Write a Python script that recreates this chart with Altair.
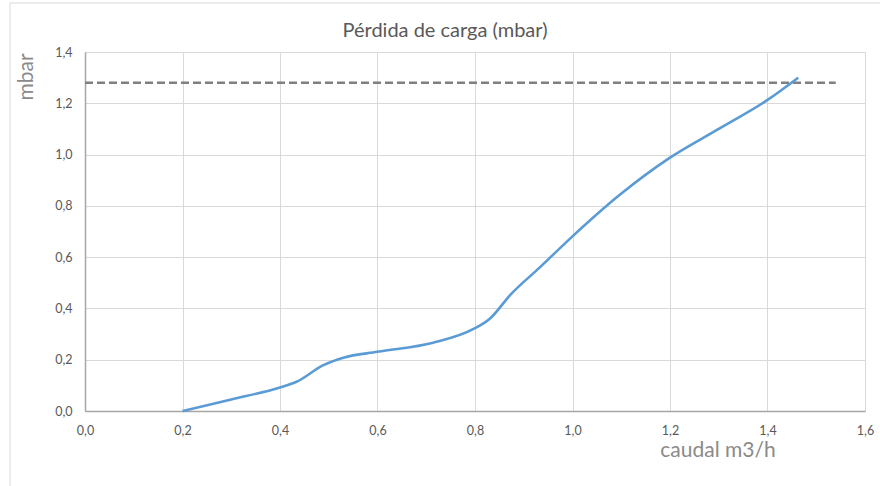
import altair as alt
import pandas as pd

# Curve
caudal = [0.2, 0.3, 0.4, 0.434, 0.489, 0.53, 0.6, 0.714, 0.797, 0.831, 0.872, 0.933,
          1.0, 1.097, 1.2, 1.3, 1.4, 1.463]
perdida = [0.0, 0.045, 0.092, 0.114, 0.179, 0.208, 0.231, 0.266, 0.32, 0.361, 0.452, 0.56,
           0.681, 0.843, 0.988, 1.10, 1.213, 1.30]

# Dashed limit line
limite_caudal = [0.0, 1.54]
limite_mbar = [1.28, 1.28]

x_ticks = [0.0, 0.2, 0.4, 0.6, 0.8, 1.0, 1.2, 1.4, 1.6]
y_ticks = [0.0, 0.2, 0.4, 0.6, 0.8, 1.0, 1.2, 1.4]

titulo = ["Pérdida de carga (mbar)"]
titulo_y = ["mbar"]
titulo_x = ["caudal m3/h"]

df = pd.DataFrame({"caudal": caudal, "mbar": perdida})
dfl = pd.DataFrame({"caudal": limite_caudal, "mbar": limite_mbar})

FONT = "Lato"
label_expr = "replace(format(datum.value, '.1f'), '.', ',')"

common_axis = dict(
    labelExpr=label_expr, title=None,
    labelFont=FONT, labelFontSize=12.5, labelColor="#595959", labelPadding=13,
    labelFlush=False, labelOverlap=False,
    ticks=False, domainColor="#a6a6a6", domainWidth=1.5,
    gridColor="#d9d9d9", gridWidth=1,
)

x_enc = alt.X(
    "caudal:Q",
    scale=alt.Scale(domain=[0, 1.6], nice=False, zero=False),
    axis=alt.Axis(values=x_ticks, **common_axis),
)
y_enc = alt.Y(
    "mbar:Q",
    scale=alt.Scale(domain=[0, 1.4], nice=False),
    axis=alt.Axis(values=y_ticks, **common_axis),
)

curve = alt.Chart(df).mark_line(
    color="#5b9bd5", strokeWidth=2.6, interpolate="monotone"
).encode(x=x_enc, y=y_enc)

limit = alt.Chart(dfl).mark_line(
    color="#808080", strokeWidth=2.5, strokeDash=[8, 4]
).encode(x="caudal:Q", y="mbar:Q")

one = pd.DataFrame({"k": [0]})
frame_top = alt.Chart(one).mark_rule(color="#d9d9d9", strokeWidth=1).encode(
    x=alt.value(-75), x2=alt.value(800), y=alt.value(-49))
frame_left = alt.Chart(one).mark_rule(color="#d9d9d9", strokeWidth=1).encode(
    x=alt.value(-75), y=alt.value(-49), y2=alt.value(440))

title_mark = alt.Chart(pd.DataFrame({"t": titulo})).mark_text(
    font=FONT, fontSize=20, color="#595959", align="center", baseline="alphabetic"
).encode(text="t:N", x=alt.value(360), y=alt.value(-15))

ytitle_mark = alt.Chart(pd.DataFrame({"t": titulo_y})).mark_text(
    font=FONT, fontSize=21, color="#8a8a8a", align="center", baseline="middle", angle=270
).encode(text="t:N", x=alt.value(-58), y=alt.value(25))

xtitle_mark = alt.Chart(pd.DataFrame({"t": titulo_x})).mark_text(
    font=FONT, fontSize=21, color="#8a8a8a", align="center", baseline="alphabetic"
).encode(text="t:N", x=alt.value(633), y=alt.value(405))

chart = alt.layer(
    frame_top, frame_left, limit, curve, title_mark, ytitle_mark, xtitle_mark
).properties(
    width=780,
    height=359,
    autosize=alt.AutoSizeParams(type="none"),
    padding={"left": 85, "top": 52, "right": 15, "bottom": 75},
).configure_view(stroke="#a6a6a6", strokeWidth=1.5).configure(background="white")

chart.save("out.html", embed_options={"renderer": "svg", "actions": False})
